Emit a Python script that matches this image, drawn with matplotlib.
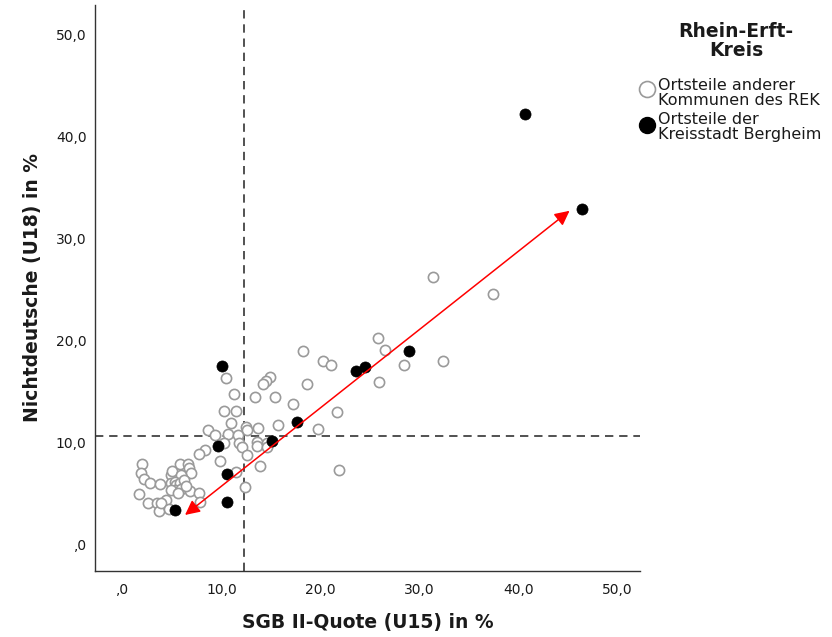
import matplotlib
matplotlib.use("Agg")
import matplotlib.pyplot as plt
from matplotlib.lines import Line2D

# ---------------- data ----------------
other_x = [31.40, 37.46, 32.41, 28.46, 25.83, 26.54, 25.94, 18.25, 20.27, 21.08,
           18.66, 14.91, 14.51, 14.21, 15.42, 17.24, 21.69, 15.72, 19.77, 21.89,
           11.27, 13.40, 10.26, 11.48, 10.97, 12.49, 13.70, 12.59, 8.65, 9.35,
           10.67, 11.68, 10.26, 11.78, 12.08, 13.60, 13.60, 14.61, 14.61, 8.34,
           7.74, 12.59, 9.86, 13.90, 11.48, 12.39, 1.97, 1.87, 2.17, 2.78,
           3.79, 1.67, 2.58, 3.49, 3.69, 4.40, 3.89, 4.70, 4.90, 5.00,
           5.81, 6.62, 6.72, 6.93, 5.92, 4.90, 5.31, 5.41, 5.81, 5.31,
           4.90, 5.92, 5.61, 6.83, 7.74, 7.84, 10.47, 6.22, 6.42]
other_y = [26.25, 24.58, 18.02, 17.63, 20.27, 19.10, 15.96, 19.00, 18.02, 17.63,
           15.77, 16.45, 16.06, 15.77, 14.50, 13.81, 13.03, 11.75, 11.36, 7.35,
           14.79, 14.50, 13.12, 13.12, 11.95, 11.56, 11.46, 11.26, 11.26, 10.77,
           10.87, 10.77, 9.99, 9.99, 9.60, 10.09, 9.70, 9.99, 9.60, 9.30,
           8.91, 8.81, 8.23, 7.74, 7.15, 5.68, 7.93, 7.05, 6.46, 6.07,
           5.97, 5.00, 4.11, 4.11, 3.33, 4.41, 4.11, 3.53, 6.86, 7.25,
           7.93, 7.93, 7.54, 7.05, 6.86, 6.07, 6.17, 5.88, 6.07, 5.39,
           5.39, 5.48, 5.09, 5.29, 5.09, 4.21, 16.36, 6.37, 5.78]

berg_x = [5.26, 10.60, 10.52, 9.61, 10.06, 15.14, 17.64, 23.64, 24.49, 28.94, 40.63, 46.43]
berg_y = [3.38, 4.18, 7.00, 9.73, 17.53, 10.17, 12.08, 17.07, 17.43, 19.03, 42.18, 32.91]

mean_x = 12.29
mean_y = 10.68
arrow_start = (6.32, 2.94)
arrow_end = (45.18, 32.74)

tick_vals = [0, 10, 20, 30, 40, 50]
tick_labels = [",0", "10,0", "20,0", "30,0", "40,0", "50,0"]

legend_title = "Rhein-Erft-\nKreis"
label_other = "Ortsteile anderer\nKommunen des REK"
label_berg = "Ortsteile der\nKreisstadt Bergheim"
xlabel = "SGB II-Quote (U15) in %"
ylabel = "Nichtdeutsche (U18) in %"

# ---------------- figure ----------------
plt.rcParams['font.family'] = ['DejaVu Sans']
W, H = 832, 637
fig = plt.figure(figsize=(W / 100, H / 100), dpi=100)
ax = fig.add_axes([95 / W, 1 - 571 / H, (640 - 95) / W, (571 - 5) / H])

ax.set_xlim(-2.78, 52.3)
ax.set_ylim(-2.55, 52.9)

ax.axvline(mean_x, color="#333333", lw=1.2, ls=(0, (5, 3.5)), zorder=1)
ax.axhline(mean_y, color="#333333", lw=1.2, ls=(0, (5, 3.5)), zorder=1)

ax.scatter(other_x, other_y, s=54, facecolors="white", edgecolors="#9a9a9a",
           linewidths=1.2, zorder=3)
ax.scatter(berg_x, berg_y, s=64, facecolors="black", edgecolors="black",
           linewidths=0.5, zorder=4)

ax.annotate("", xy=arrow_end, xytext=arrow_start,
            arrowprops=dict(arrowstyle="<|-|>", color="#ff0000", lw=1.1,
                            mutation_scale=22, shrinkA=0, shrinkB=0),
            zorder=5)

for s in ["top", "right"]:
    ax.spines[s].set_visible(False)
for s in ["left", "bottom"]:
    ax.spines[s].set_linewidth(1.0)
    ax.spines[s].set_color("#333333")

ax.set_xticks(tick_vals)
ax.set_xticklabels(tick_labels)
ax.set_yticks(tick_vals)
ax.set_yticklabels(tick_labels)
ax.tick_params(axis="both", length=0, labelsize=10, colors="#1a1a1a")
ax.tick_params(axis="x", pad=9)
ax.tick_params(axis="y", pad=6)

ax.set_xlabel(xlabel, fontsize=13.5, fontweight="bold", color="#1a1a1a", labelpad=11)
ax.set_ylabel(ylabel, fontsize=13.5, fontweight="bold", color="#1a1a1a", labelpad=10)

# legend (manual)
fig.text(736 / W, 1 - 41 / H, legend_title, ha="center", va="center",
         fontsize=13.5, fontweight="bold", color="#1a1a1a", linespacing=1.05)
fig.add_artist(Line2D([647 / W], [1 - 89 / H], marker="o", markersize=11.5,
                      markerfacecolor="white", markeredgecolor="#9a9a9a",
                      markeredgewidth=1.2, transform=fig.transFigure))
fig.add_artist(Line2D([647 / W], [1 - 125 / H], marker="o", markersize=11.5,
                      markerfacecolor="black", markeredgecolor="black",
                      transform=fig.transFigure))
fig.text(658 / W, 1 - 93 / H, label_other, ha="left", va="center",
         fontsize=11.5, color="#1a1a1a", linespacing=1.05)
fig.text(658 / W, 1 - 127 / H, label_berg, ha="left", va="center",
         fontsize=11.5, color="#1a1a1a", linespacing=1.05)

fig.savefig("out.png", dpi=100)
